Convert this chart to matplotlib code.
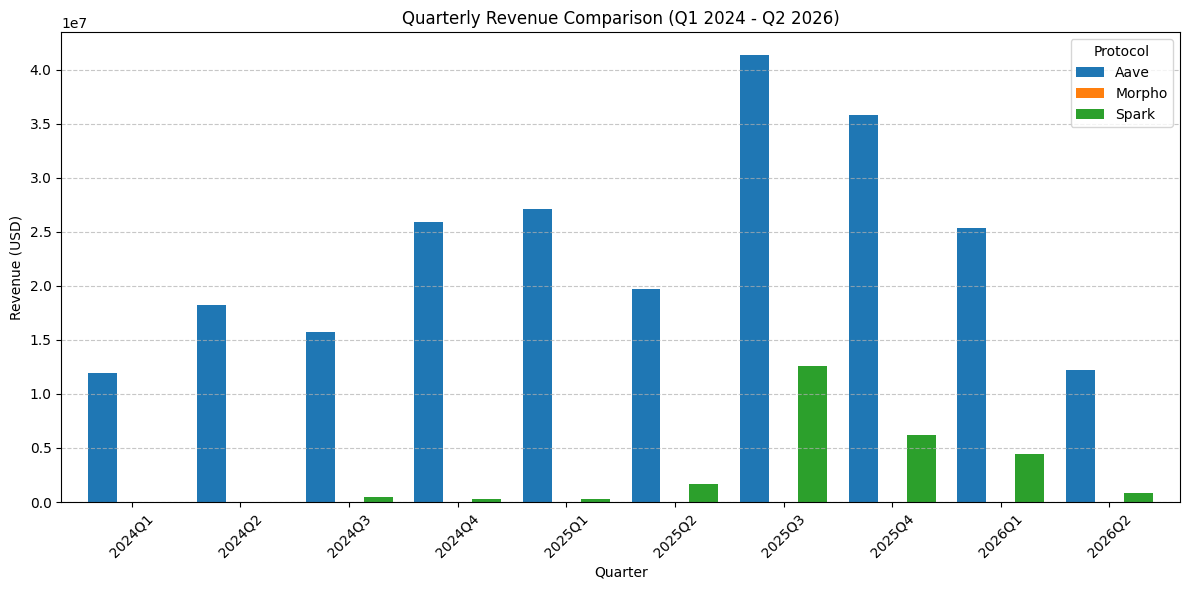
import pandas as pd
import matplotlib
matplotlib.use("Agg")
from matplotlib import pyplot as plt

quarters = ["2024Q1", "2024Q2", "2024Q3", "2024Q4", "2025Q1",
            "2025Q2", "2025Q3", "2025Q4", "2026Q1", "2026Q2"]
aave = [11.95e6, 18.25e6, 15.75e6, 25.9e6, 27.1e6,
        19.7e6, 41.4e6, 35.8e6, 25.4e6, 12.2e6]
morpho = [0, 0, 0, 0, 0, 0, 0, 0, 0, 0]
spark = [0, 0, 0.46e6, 0.28e6, 0.28e6,
         1.67e6, 12.6e6, 6.2e6, 4.45e6, 0.83e6]

df = pd.DataFrame({"Aave": aave, "Morpho": morpho, "Spark": spark}, index=quarters)

fig, ax = plt.subplots(figsize=(12, 6))
df.plot(kind="bar", width=0.8, ax=ax, rot=45)

ax.set_title("Quarterly Revenue Comparison (Q1 2024 - Q2 2026)")
ax.set_xlabel("Quarter")
ax.set_ylabel("Revenue (USD)")
ax.grid(axis="y", linestyle="--", alpha=0.7)
ax.legend(title="Protocol")

plt.tight_layout()
plt.savefig("out.png", dpi=100, bbox_inches="tight")
